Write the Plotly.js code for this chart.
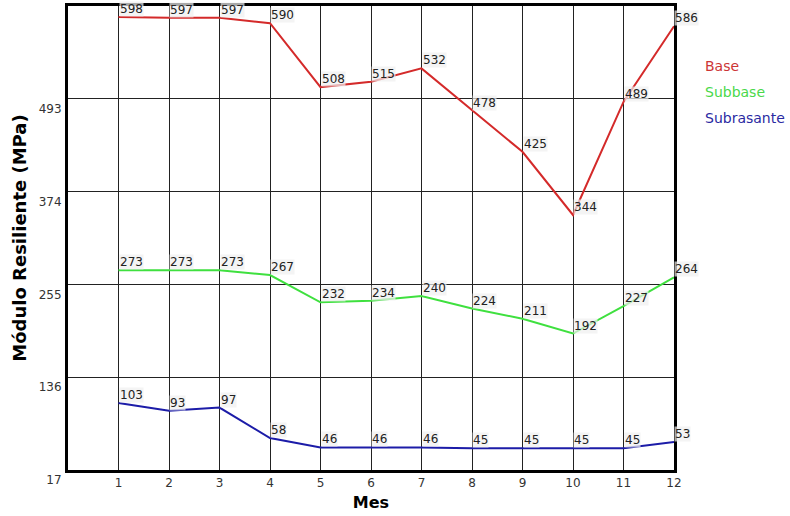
<!DOCTYPE html>
<html>
<head>
<meta charset="utf-8">
<script src="https://cdn.plot.ly/plotly-3.0.1.min.js"></script>
<style>html,body{margin:0;padding:0;background:#fff;}#chart{width:790px;height:516px;}</style>
</head>
<body>
<div id="chart"></div>
<script>
const meses = [1,2,3,4,5,6,7,8,9,10,11,12];
const base = [598,597,597,590,508,515,532,478,425,344,489,586];
const subbase = [273,273,273,267,232,234,240,224,211,192,227,264];
const subrasante = [103,93,97,58,46,46,46,45,45,45,45,53];
const yTicks = [17,136,255,374,493];
const xTicks = [1,2,3,4,5,6,7,8,9,10,11,12];
const seriesNames = ['Base','Subbase','Subrasante'];

const lineColors = ['#d42a2a','#3fe03f','#1c1ca8'];
const legendColors = ['#cc3535','#4ad84a','#2a2aa2'];
const allSeries = [base, subbase, subrasante];

const FONT = 'DejaVu Sans, Verdana, sans-serif';

const traces = allSeries.map((s,i)=>({
  x: meses, y: s, type:'scatter', mode:'lines', name: seriesNames[i],
  line:{color: lineColors[i], width:2}, showlegend:false, hoverinfo:'x+y'
}));

const annotations = [];
allSeries.forEach((s)=>{
  s.forEach((v,j)=>{
    annotations.push({
      x: meses[j], y: v, xref:'x', yref:'y', text: String(v), showarrow:false,
      xanchor:'left', yanchor:'bottom', xshift:0, yshift:0,
      bgcolor:'rgba(240,240,240,0.7)', borderpad:0,
      font:{family:FONT, size:12, color:'#222'}
    });
  });
});
const legY = [0.871, 0.815, 0.759];
seriesNames.forEach((n,i)=>{
  annotations.push({
    x:1.048, y:legY[i], xref:'paper', yref:'paper', text:n, showarrow:false,
    xanchor:'left', yanchor:'middle', font:{family:FONT, size:14, color:legendColors[i]}
  });
});

const layout = {
  width:790, height:516,
  margin:{l:68, r:116, t:6, b:46},
  paper_bgcolor:'#fff', plot_bgcolor:'#fff',
  font:{family:FONT, size:12, color:'#222'},
  xaxis:{
    range:[0,12], tickvals:xTicks, ticktext:xTicks.map(String),
    showgrid:true, gridcolor:'#222', gridwidth:1,
    showline:true, linecolor:'#000', linewidth:3, mirror:true,
    zeroline:false, ticks:'', fixedrange:true,
    tickfont:{family:FONT, size:12, color:'#333'},
    title:{text:'<b>Mes</b>', font:{family:FONT, size:16, color:'#000'}, standoff:8}
  },
  yaxis:{
    range:[17,612], tickvals:yTicks, ticktext:yTicks.map(String),
    showgrid:true, gridcolor:'#222', gridwidth:1,
    showline:true, linecolor:'#000', linewidth:3, mirror:true,
    zeroline:false, ticks:'', ticklabelshift:10, ticklabelstandoff:1, fixedrange:true,
    tickfont:{family:FONT, size:12, color:'#333'},
    title:{text:'<b>Módulo Resiliente (MPa)</b>', font:{family:FONT, size:18, color:'#000'}, standoff:8}
  },
  annotations: annotations
};

Plotly.newPlot('chart', traces, layout, {displayModeBar:false, staticPlot:true});
</script>
</body>
</html>
